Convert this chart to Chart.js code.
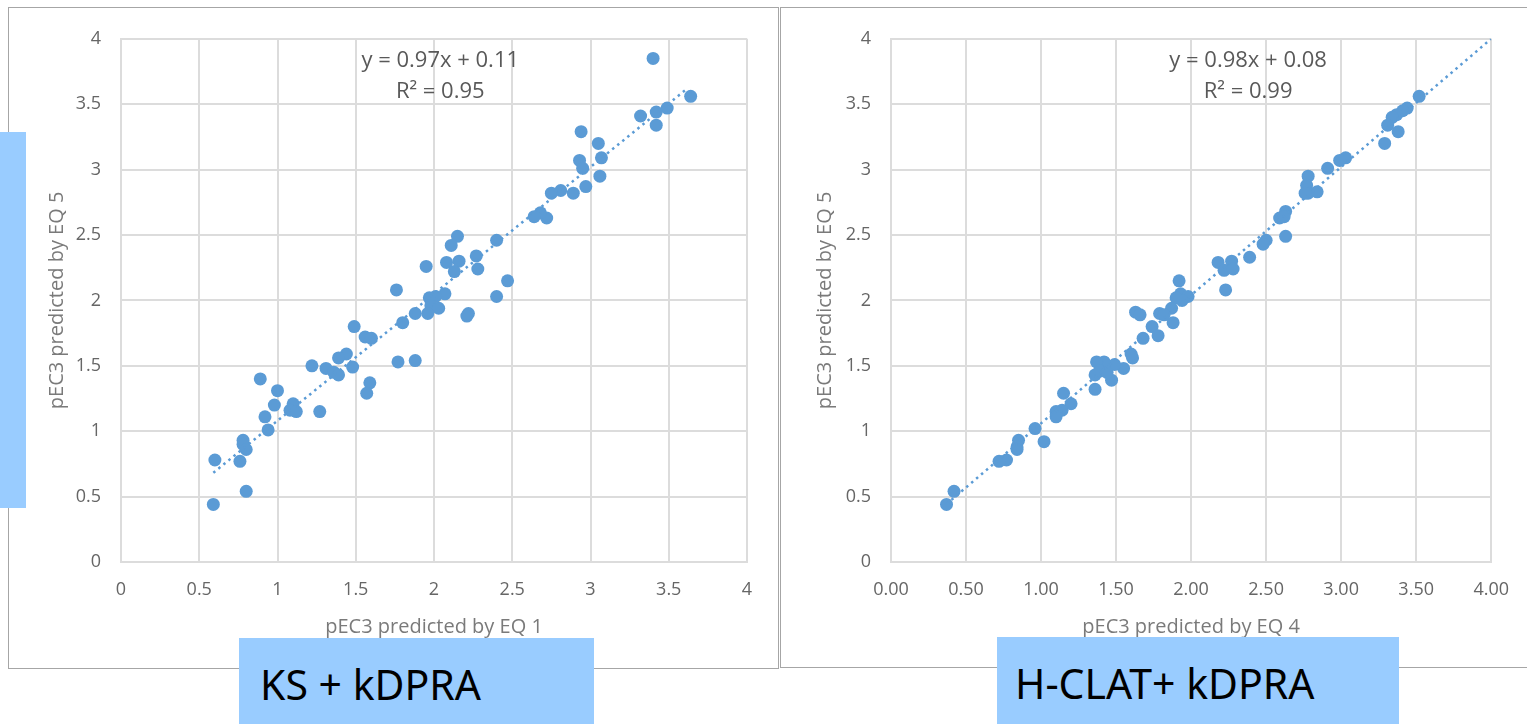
<!DOCTYPE html>
<html>
<head>
<meta charset="utf-8">
<script src="https://cdn.jsdelivr.net/npm/chart.js@4.4.0/dist/chart.umd.min.js"></script>
<style>
  body { margin: 0; width: 1527px; height: 724px; overflow: hidden; background: #fff; position: relative; }
  .frame { position: absolute; border: 1px solid #a6a6a6; box-sizing: border-box; background: #fff; }
  canvas { position: absolute; }
  .side { position: absolute; left: 0; top: 132px; width: 26px; height: 376px; background: #99ccff; }
  .tag { position: absolute; background: #99ccff; color: #000; font-family: "Noto Sans", sans-serif;
         font-size: 41px; line-height: 41px; box-sizing: border-box; white-space: nowrap; }
</style>
</head>
<body>
<div class="frame" style="left:8px;top:7px;width:771px;height:662px"></div>
<div class="frame" style="left:780px;top:7px;width:747px;height:661px;border-right:none"></div>
<canvas id="ks" width="768" height="659" style="left:9px;top:8px"></canvas>
<canvas id="hclat" width="745" height="659" style="left:781px;top:8px"></canvas>
<div class="side"></div>
<div class="tag" style="left:239px;top:638px;width:355px;height:86px;padding:26px 0 0 21px">KS + kDPRA</div>
<div class="tag" style="left:997px;top:637px;width:402px;height:87px;padding:26px 0 0 18px">H-CLAT+ kDPRA</div>

<script>
// KS + kDPRA : EQ 1 (x) vs EQ 5 (y)
const ksX = [3.40, 3.64, 3.49, 3.42, 3.32, 3.42, 2.94, 3.05, 3.07, 2.93, 2.95, 3.06, 2.97, 2.89, 2.81, 2.75,
  2.72, 2.68, 2.64, 2.40, 2.15, 2.11, 2.27, 2.28, 2.47, 2.40, 2.08, 2.16, 2.13, 1.95, 2.07, 2.01,
  1.97, 1.98, 2.03, 1.96, 2.22, 2.21, 1.88, 1.80, 1.76, 1.88, 1.77, 1.49, 1.56, 1.60, 1.59, 1.57,
  1.44, 1.39, 1.48, 1.22, 1.31, 1.36, 1.39, 1.27, 1.00, 0.89, 0.98, 1.10, 1.08, 1.12, 0.92, 0.94,
  0.78, 0.78, 0.80, 0.76, 0.60, 0.80, 0.59];
const ksY = [3.85, 3.56, 3.47, 3.44, 3.41, 3.34, 3.29, 3.20, 3.09, 3.07, 3.01, 2.95, 2.87, 2.82, 2.84, 2.82,
  2.63, 2.67, 2.64, 2.46, 2.49, 2.42, 2.34, 2.24, 2.15, 2.03, 2.29, 2.30, 2.22, 2.26, 2.05, 2.03,
  2.02, 1.96, 1.94, 1.90, 1.90, 1.88, 1.90, 1.83, 2.08, 1.54, 1.53, 1.80, 1.72, 1.71, 1.37, 1.29,
  1.59, 1.56, 1.49, 1.50, 1.48, 1.45, 1.43, 1.15, 1.31, 1.40, 1.20, 1.21, 1.16, 1.15, 1.11, 1.01,
  0.93, 0.90, 0.86, 0.77, 0.78, 0.54, 0.44];
const ksFit = [0.97, 0.11];          // slope, intercept
const ksFitRange = [0.59, 3.62];
const ksEq = ['y = 0.97x + 0.11', 'R² = 0.95'];

// H-CLAT + kDPRA : EQ 4 (x) vs EQ 5 (y)
const hclatX = [3.52, 3.44, 3.41, 3.37, 3.34, 3.31, 3.38, 3.29, 3.03, 2.99, 2.91, 2.78, 2.77, 2.78, 2.84, 2.76,
  2.63, 2.59, 2.62, 2.63, 2.50, 2.48, 2.39, 2.18, 2.27, 2.22, 2.28, 2.23, 1.92, 1.93, 1.98, 1.94,
  1.90, 1.87, 1.88, 1.79, 1.82, 1.63, 1.66, 1.74, 1.78, 1.68, 1.61, 1.60, 1.55, 1.49, 1.47, 1.42,
  1.37, 1.36, 1.39, 1.44, 1.36, 1.15, 1.20, 1.14, 1.10, 1.10, 0.96, 1.02, 0.85, 0.84, 0.84, 0.77,
  0.72, 0.42, 0.37];
const hclatY = [3.56, 3.47, 3.45, 3.42, 3.40, 3.34, 3.29, 3.20, 3.09, 3.07, 3.01, 2.95, 2.88, 2.82, 2.83, 2.82,
  2.68, 2.63, 2.64, 2.49, 2.46, 2.43, 2.33, 2.29, 2.30, 2.23, 2.24, 2.08, 2.15, 2.05, 2.03, 2.00,
  2.02, 1.94, 1.83, 1.90, 1.89, 1.91, 1.89, 1.80, 1.73, 1.71, 1.56, 1.59, 1.48, 1.51, 1.39, 1.53,
  1.53, 1.43, 1.46, 1.45, 1.32, 1.29, 1.21, 1.16, 1.15, 1.11, 1.02, 0.92, 0.93, 0.88, 0.86, 0.78,
  0.77, 0.54, 0.44];
const hclatFit = [0.98, 0.08];
const hclatFitRange = [0.37, 4.0];
const hclatEq = ['y = 0.98x + 0.08', 'R² = 0.99'];

const BLUE = '#5b9bd5';
const GRID = '#dcdcdc';

// trendline equation text, placed in data coordinates
const eqLabel = {
  id: 'eqLabel',
  afterDatasetsDraw(chart, args, opts) {
    const { ctx, scales: { x, y } } = chart;
    ctx.save();
    ctx.font = '22px "Open Sans"';
    ctx.fillStyle = '#595959';
    ctx.textAlign = 'center';
    ctx.textBaseline = 'middle';
    opts.lines.forEach((t, i) => {
      ctx.fillText(t, x.getPixelForValue(opts.at[0]), y.getPixelForValue(opts.at[1]) + i * 31);
    });
    ctx.restore();
  }
};

function scatterChart(id, xs, ys, fit, range, eq, o) {
  const pts = xs.map((v, i) => ({ x: v, y: ys[i] }));
  const line = range.map(v => ({ x: v, y: fit[0] * v + fit[1] }));
  return new Chart(document.getElementById(id), {
    type: 'scatter',
    data: {
      datasets: [{
        type: 'line',
        data: line,
        borderColor: BLUE,
        borderWidth: 2.5,
        borderDash: [2.5, 4],
        pointRadius: 0,
        fill: false,
        order: 0
      }, {
        data: pts,
        backgroundColor: BLUE,
        borderWidth: 0,
        pointRadius: 6.5,
        order: 1
      }]
    },
    plugins: [eqLabel],
    options: {
      responsive: false,
      animation: false,
      layout: { padding: { left: 0, top: 24, right: o.right, bottom: 0 } },
      plugins: {
        legend: { display: false },
        tooltip: { enabled: false },
        eqLabel: { lines: eq, at: o.eqAt }
      },
      scales: {
        x: {
          type: 'linear', min: 0, max: 4,
          afterFit: s => { s.height = 105; },
          grid: { color: GRID, lineWidth: 2, drawTicks: false },
          border: { color: GRID, width: 2 },
          ticks: {
            stepSize: 0.5, padding: 17, color: '#666',
            font: { family: 'Open Sans', size: 18 },
            callback: o.xFormat
          },
          title: {
            display: true, text: o.xTitle, color: '#7a7a7a',
            font: { family: 'Open Sans', size: 20 },
            padding: { top: 0, bottom: 28 }
          }
        },
        y: {
          type: 'linear', min: 0, max: 4,
          afterFit: s => { s.width = o.yWidth; },
          grid: { color: GRID, lineWidth: 2, drawTicks: false },
          border: { color: GRID, width: 2 },
          ticks: {
            stepSize: 0.5, padding: 20, color: '#666',
            font: { family: 'Open Sans', size: 18 },
            callback: v => String(v)
          },
          title: {
            display: true, text: 'pEC3 predicted by EQ 5', color: '#7a7a7a',
            font: { family: 'Open Sans', size: 20 },
            padding: { top: o.yTitlePad, bottom: 0 }
          }
        }
      }
    }
  });
}

scatterChart('ks', ksX, ksY, ksFit, ksFitRange, ksEq, {
  right: 30, yWidth: 112, yTitlePad: 36, eqAt: [2.04, 3.83],
  xTitle: 'pEC3 predicted by EQ 1',
  xFormat: v => String(v)
});
scatterChart('hclat', hclatX, hclatY, hclatFit, hclatFitRange, hclatEq, {
  right: 27, yWidth: 110, yTitlePad: 32, eqAt: [2.38, 3.83],
  xTitle: 'pEC3 predicted by EQ 4',
  xFormat: v => v.toFixed(2)
});
</script>
</body>
</html>
